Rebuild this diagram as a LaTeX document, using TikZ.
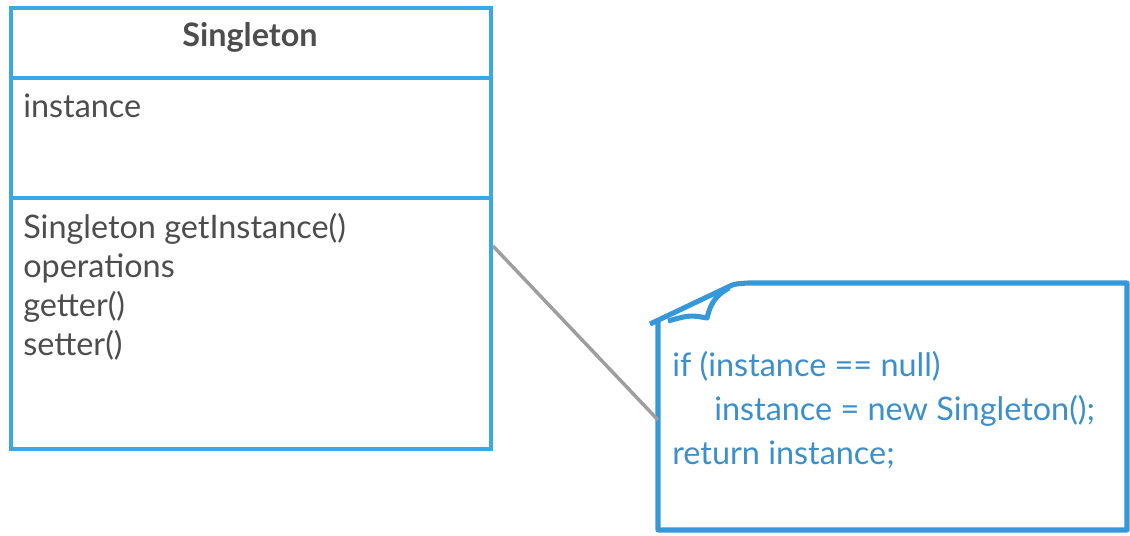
\documentclass[tikz,border=0pt]{standalone}
\usepackage{fontspec}
\setmainfont{Lato}
\usepackage{xcolor}
\usetikzlibrary{positioning, calc}

\definecolor{umlblue}{HTML}{3AA8E1}
\definecolor{noteblue}{HTML}{3498DB}
\definecolor{notetext}{HTML}{3D8FCB}
\definecolor{umltext}{HTML}{4D4D4D}
\definecolor{linkgray}{HTML}{9E9E9E}

\begin{document}
\begin{tikzpicture}[x=0.75pt, y=-0.75pt,
    compartment/.style={draw=umlblue, line width=3pt, minimum width=360pt,
        inner sep=0pt, outer sep=0pt, anchor=north west},
    member/.style={anchor=base west, text=umltext, inner sep=0pt,
        font=\fontsize{24.3}{28}\selectfont},
    notecode/.style={anchor=base west, text=notetext, inner sep=0pt,
        font=\fontsize{24.3}{28}\selectfont}]
\useasboundingbox (0,0) rectangle (1130,535);

% Class box: name, attributes, operations
\node[compartment, minimum height=52.5pt] (title) at (11,8) {};
\node[compartment, minimum height=90pt, below=0pt of title] (attrs) {};
\node[compartment, minimum height=188.25pt, below=0pt of attrs] (ops) {};

\node[font=\fontsize{24.3}{28}\selectfont\bfseries, text=umltext, anchor=base]
    (name) at (250,47) {Singleton};
\node[member] (attr1) at (23,117) {instance};

\foreach \txt [count=\i] in {Singleton getInstance(), operations, getter(), setter()} {
    \node[member] (op\i) at (23,199+39*\i) {\txt};
}

% Note with folded corner
\draw[noteblue, line width=3.8pt, line join=round]
    (650,324) -- (728,287) .. controls (734,284) .. (748,283)
    -- (1127,283) -- (1127,530) -- (658,530) -- (658,322);
\draw[noteblue, line width=3.8pt, line join=round]
    (729,288) .. controls (714,296) and (710,306) .. (707,318)
    .. controls (690,315) .. (668,321);

\node[notecode] (line1) at (672,376) {if (instance == null)};
\node[notecode] (line2) at (714,420) {instance = new Singleton();};
\node[notecode] (line3) at (672,464) {return instance;};

% Link from class to note
\coordinate (link-a) at (493,246);
\coordinate (link-b) at (658,420);
\draw[linkgray, line width=2.6pt] (link-a) -- (link-b);
\end{tikzpicture}
\end{document}
